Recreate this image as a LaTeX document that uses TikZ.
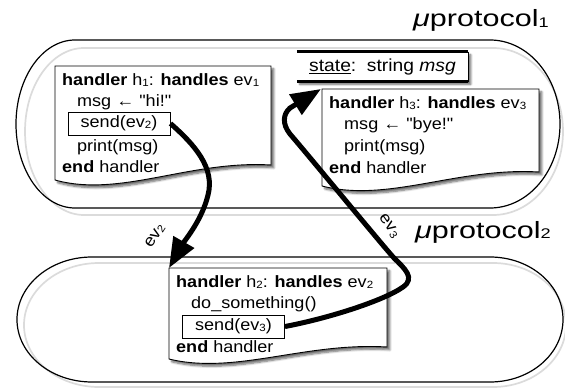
\documentclass[tikz,border=0pt]{standalone}
\usepackage{fontspec}
\setmainfont{Liberation Sans}
\newfontfamily\codefont[FakeStretch=1.1]{Liberation Sans}
\newfontfamily\lblfont[FakeStretch=1.3]{Liberation Sans}
\usetikzlibrary{arrows.meta,shadows.blur}

% small lowered index (h1, ev2, ...)
\newcommand\sbs[1]{\raisebox{-1.2pt}{\fontsize{10.5}{10}\selectfont #1}}
\newcommand\bodyfont{\codefont\fontsize{16.4}{19}\selectfont}
\newcommand\protofont{\lblfont\fontsize{23.5}{24}\selectfont}

\begin{document}
\begin{tikzpicture}[x=1pt,y=1pt,
  every node/.style={inner sep=0pt},
  codeline/.style={anchor=base west, font=\bodyfont},
  pill/.style={line width=1.2pt, draw=black},
  pillshade/.style={line width=1.7pt, draw=black!14},
  boxshadow/.style={blur shadow={shadow xshift=2.8pt, shadow yshift=-2.8pt,
      shadow blur steps=6, shadow opacity=60}},
  docbox/.style={draw=black, line width=0.9pt, fill=white, boxshadow},
  sendbox/.style={draw=black, line width=0.9pt, minimum width=102pt,
      minimum height=23pt, font=\bodyfont, text height=11.6pt, text depth=3.4pt},
  statebox/.style={fill=white, boxshadow, minimum width=171pt,
      minimum height=29.5pt, font=\codefont\fontsize{17.5}{20}\selectfont,
      text height=12.5pt, text depth=3.6pt},
  flow/.style={line width=5pt, line join=round, draw=black,
      -{Triangle[length=30pt,width=23pt]}},
  flowlbl/.style={font=\bodyfont}]

\useasboundingbox (0,0) rectangle (565,-388);

% ---- micro-protocol outlines (grey offset rim behind the black outline)
\draw[pillshade] (84,-48) -- (493,-48)
  arc[start angle=90, end angle=-90, x radius=70pt, y radius=83.5pt]
  -- (84,-215)
  arc[start angle=270, end angle=90, x radius=59pt, y radius=83.5pt] -- cycle;
\draw[pill] (75,-40) -- (490,-40)
  arc[start angle=90, end angle=-90, x radius=70pt, y radius=84pt]
  -- (75,-208)
  arc[start angle=270, end angle=90, x radius=59pt, y radius=84pt] -- cycle;

\draw[pillshade] (99,-263) -- (493,-263)
  arc[start angle=90, end angle=-90, x radius=73pt, y radius=62pt]
  -- (99,-387)
  arc[start angle=270, end angle=90, x radius=75pt, y radius=62pt] -- cycle;
\draw[pill] (92,-257) -- (490,-257)
  arc[start angle=90, end angle=-90, x radius=73pt, y radius=62.5pt]
  -- (92,-382)
  arc[start angle=270, end angle=90, x radius=75pt, y radius=62.5pt] -- cycle;

\node[anchor=base west] (p1) at (413,-27)
  {\protofont\textit{μ}protocol\raisebox{-0.5pt}{\fontsize{14}{14}\selectfont 1}};
\node[anchor=base west] (p2) at (415,-238)
  {\protofont\textit{μ}protocol\raisebox{-0.5pt}{\fontsize{14}{14}\selectfont 2}};

% ---- state declaration
\node[statebox] (st) at (382.5,-66.75) {\underline{state}:\ \ string \textit{msg}\ };
\draw[line width=3pt] (st.north west) -- (st.north east);
\draw[line width=3pt] (st.south west) -- (st.south east);
\draw[line width=0.9pt] (st.north east) -- (st.south east);

% ---- handler h1
\draw[docbox] (55,-66) -- (271,-66) -- (271,-165)
  .. controls (190,-160) and (120,-198) .. (55,-180) -- cycle;
\node[codeline] (h1a) at (62,-85) {\textbf{handler} h\sbs1: \textbf{handles} ev\sbs1};
\node[codeline] (h1b) at (77,-106) {msg ← "hi!"};
\node[sendbox] (s2) at (119,-123.5) {send(ev\sbs2)};
\node[codeline] (h1d) at (77,-151) {print(msg)};
\node[codeline] (h1e) at (62,-172) {\textbf{end} handler};

% ---- handler h3
\draw[docbox] (322,-89) -- (539,-89) -- (539,-172)
  .. controls (458,-167) and (388,-203) .. (322,-186) -- cycle;
\coordinate (h3nw) at (321,-89);
\node[codeline] (h3a) at (329,-108) {\textbf{handler} h\sbs3: \textbf{handles} ev\sbs3};
\node[codeline] (h3b) at (344,-129) {msg ← "bye!"};
\node[codeline] (h3c) at (344,-151) {print(msg)};
\node[codeline] (h3d) at (329,-173) {\textbf{end} handler};

% ---- handler h2
\draw[docbox] (169,-268) -- (387,-268) -- (387,-347)
  .. controls (305,-342) and (235,-375) .. (169,-359) -- cycle;
\coordinate (h2nw) at (169,-268);
\node[codeline] (h2a) at (176,-287) {\textbf{handler} h\sbs2: \textbf{handles} ev\sbs2};
\node[codeline] (h2b) at (191,-308) {do\_something()};
\node[sendbox] (s3) at (233.5,-326.5) {send(ev\sbs3)};
\node[codeline] (h2d) at (176,-352) {\textbf{end} handler};

% ---- event flows
\draw[flow] (s2.east) .. controls (195,-145) and (215,-168) .. (208,-195)
  .. controls (202,-220) and (185,-240) .. (h2nw);
\draw[flow] (s3.east) .. controls (330,-318) and (385,-300) .. (403,-287)
  .. controls (416,-278) and (404,-268) .. (394,-258)
  .. controls (383,-246) and (304,-150) .. (290,-134)
  .. controls (282,-124) and (283,-114) .. (290,-108) -- (h3nw);

\node[flowlbl, rotate=58] (l2) at (155,-236) {ev\sbs2};
\node[flowlbl, rotate=-55] (l3) at (389,-226) {ev\sbs3};

\end{tikzpicture}
\end{document}
